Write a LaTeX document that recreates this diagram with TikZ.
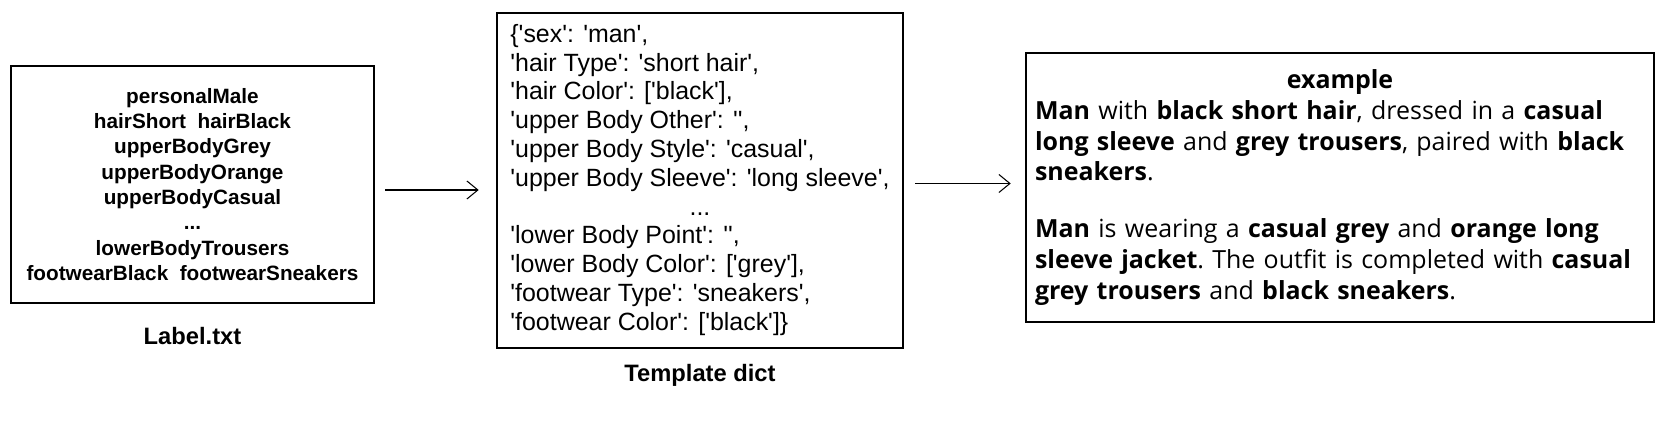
\documentclass[tikz,border=0pt]{standalone}
\usepackage{fontspec}
\setmainfont{Liberation Sans}
\newfontfamily\dictfont[Ligatures=TeXOff]{Liberation Sans}
\newfontfamily\descfont{Open Sans}
\usetikzlibrary{arrows.meta, positioning}
\tikzset{
    labelbox/.style={
        rectangle,
        draw=black,
        line width=1.5pt,
        minimum width=7.26cm,
        minimum height=4.74cm,
        align=center,
        font=\fontsize{11.8}{14.4}\selectfont\bfseries % label list
    },
    dictbox/.style={
        rectangle,
        draw=black,
        line width=1.5pt,
        minimum width=8.12cm,
        minimum height=6.7cm,
        inner sep=0pt,
        font=\fontsize{14.2}{16.4}\selectfont\dictfont
    },
    descbox/.style={
        rectangle,
        draw=black,
        line width=1.5pt,
        minimum width=12.56cm,
        minimum height=5.38cm,
        text width=12.2cm,
        align=left,
        font=\fontsize{14.2}{17.6}\selectfont\descfont,
        execute at begin node={\hyphenpenalty=10000\relax\frenchspacing}
    },
    caption/.style={font=\fontsize{13.5}{15}\selectfont\bfseries, inner sep=0pt},
    flow/.style={-{Straight Barb[length=2.2mm, width=3.6mm]}, line width=0.6pt}
}

\begin{document}
\begin{tikzpicture}[x=0.02cm, y=-0.02cm]

    \useasboundingbox (0,0) rectangle (1668,428);

    \node[labelbox] (labels) at (192.5,184.5) {
    personalMale\\
    hairShort\ \ hairBlack\\
    upperBodyGrey\\
    upperBodyOrange\\
    upperBodyCasual\\
    ...\\
    lowerBodyTrousers\\
    footwearBlack\ \ footwearSneakers
    };
    \node[caption, below=0.45cm of labels] (labelscap) {Label.txt};

    \node[dictbox] (dict) at (700,180.5) {
    \begin{tabular}{@{}l@{}}
    \{'sex': 'man',\\
    'hair Type': 'short hair',\\
    'hair Color': ['black'],\\
    'upper Body Other': '',\\
    'upper Body Style': 'casual',\\
    'upper Body Sleeve': 'long sleeve',\\
    \multicolumn{1}{c}{...}\\
    'lower Body Point': '',\\
    'lower Body Color': ['grey'],\\
    'footwear Type': 'sneakers',\\
    'footwear Color': ['black']\}
    \end{tabular}
    };
    \node[caption, below=0.3cm of dict] (dictcap) {Template dict};

    \node[descbox] (desc) at (1340,187.5) {
    {\centering\bfseries example\par}
    \textbf{Man} with \textbf{black short hair}, dressed in a \textbf{casual}\\
    \textbf{long sleeve} and \textbf{grey trousers}, paired with \textbf{black}\\
    \textbf{sneakers}.\\[0.52cm]
    \textbf{Man} is wearing a \textbf{casual grey} and \textbf{orange long}\\
    \textbf{sleeve jacket}. The outfit is completed with \textbf{casual}\\
    \textbf{grey trousers} and \textbf{black sneakers}.
    };

    \draw[flow, shorten <=0.2cm, shorten >=0.34cm]
        ([yshift=-0.11cm]labels.east) -- ([yshift=-0.11cm]labels.east -| dict.west);

    \draw[flow, shorten <=0.22cm, shorten >=0.28cm]
        ([yshift=-0.06cm]dict.east) -- ([yshift=-0.06cm]dict.east -| desc.west);

\end{tikzpicture}
\end{document}
